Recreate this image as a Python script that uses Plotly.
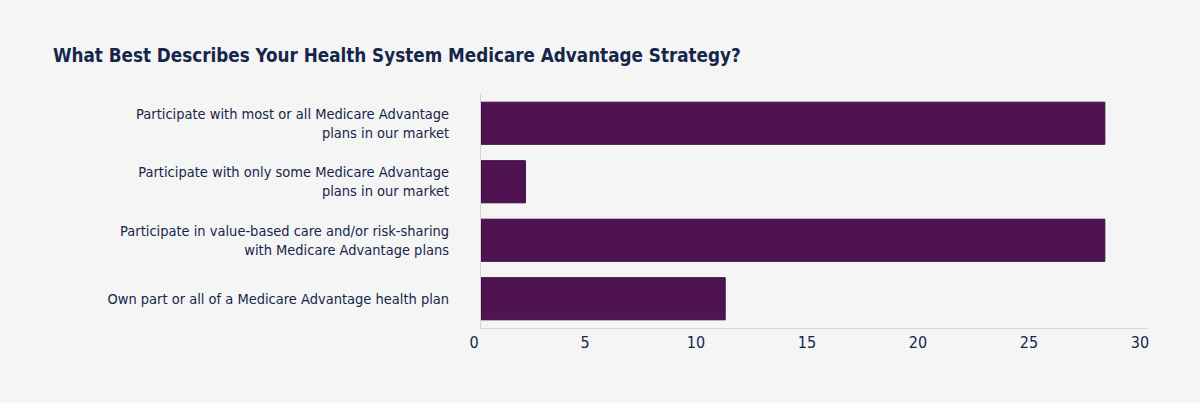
import plotly.graph_objects as go

categories = [
    "Participate with most or all Medicare Advantage<br>plans in our market",
    "Participate with only some Medicare Advantage<br>plans in our market",
    "Participate in value-based care and/or risk-sharing<br>with Medicare Advantage plans",
    "Own part or all of a Medicare Advantage health plan",
]
values = [28.1, 2, 28.1, 11]
tick_vals = [0, 5, 10, 15, 20, 25, 30]

BG = "#f5f5f5"
NAVY = "#16264a"
FONT = "DejaVu Sans Condensed, Liberation Sans Narrow, sans-serif"

fig = go.Figure(
    go.Bar(
        x=values,
        y=categories,
        orientation="h",
        marker=dict(color="#501352", line=dict(color="#3a0c3b", width=1)),
        width=0.72,
        hoverinfo="x+y",
    )
)

fig.update_layout(
    width=1200,
    height=403,
    paper_bgcolor=BG,
    plot_bgcolor=BG,
    margin=dict(l=481, r=53, t=94, b=75),
    font=dict(family=FONT, color=NAVY, size=14.5),
    title=dict(
        text="<b>What Best Describes Your Health System Medicare Advantage Strategy?</b>",
        x=53 / 1200,
        xanchor="left",
        y=1 - 55 / 403,
        yanchor="middle",
        font=dict(family=FONT, size=18.7, color=NAVY),
    ),
    showlegend=False,
)

fig.update_xaxes(
    range=[0, 30],
    tickvals=tick_vals,
    showgrid=False,
    zeroline=False,
    showline=True,
    linecolor="#d4d4d4",
    linewidth=1,
    ticks="",
    tickfont=dict(size=16, color=NAVY),
    ticklabelshift=-7,
    fixedrange=True,
)
fig.update_yaxes(
    categoryorder="array",
    categoryarray=categories[::-1],
    autorange=True,
    showgrid=False,
    showline=True,
    linecolor="#d4d4d4",
    linewidth=1,
    ticks="outside",
    ticklen=28,
    tickcolor=BG,
    tickfont=dict(size=14.5, color=NAVY),
    fixedrange=True,
)

fig.write_html("out.html")
